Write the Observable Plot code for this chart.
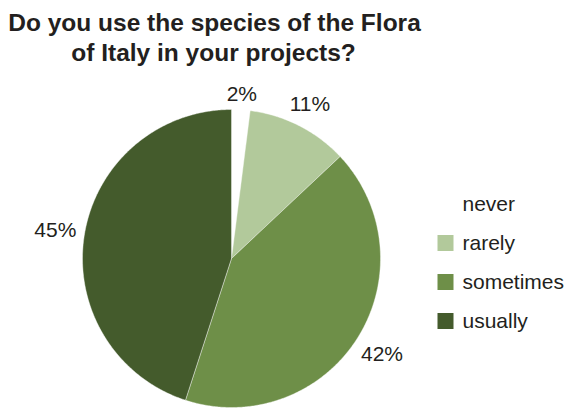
<!DOCTYPE html>
<html>
<head>
<meta charset="utf-8">
<script src="https://cdn.jsdelivr.net/npm/d3@7"></script>
<script src="https://cdn.jsdelivr.net/npm/@observablehq/plot@0.6"></script>
<style>
  html, body { margin: 0; padding: 0; background: #fff; }
  #chart { width: 567px; height: 408px; }
</style>
</head>
<body>
<div id="chart"></div>
<script>
const categories = ["never", "rarely", "sometimes", "usually"];
const values = [2, 11, 42, 45];
const labels = ["2%", "11%", "42%", "45%"];
const colors = ["#ffffff", "#b2c99b", "#6e8f48", "#445b2c"];
const titleLines = ["Do you use the species of the Flora", "of Italy in your projects?"];

const W = 567, H = 408;
const R = 149, CX = 231, CY = 258;
const textColor = "#231f20";
const font = "Liberation Sans, Arial, Helvetica, sans-serif";

// slice polygons built from the values
const pie = d3.pie().sort(null).startAngle(0).endAngle(2 * Math.PI)(values);
const polys = [];
pie.forEach((s, i) => {
  polys.push({cat: categories[i], x: 0, y: 0});
  const n = Math.max(2, Math.ceil((s.endAngle - s.startAngle) / (Math.PI / 360)));
  for (let k = 0; k <= n; k++) {
    const a = s.startAngle + (s.endAngle - s.startAngle) * k / n;
    polys.push({cat: categories[i], x: Math.sin(a), y: Math.cos(a)});
  }
  polys.push({cat: categories[i], x: 0, y: 0});
});

// label positions (outside end)
const fs = 21;
const lab = pie.map((s, i) => {
  const a = (s.startAngle + s.endAngle) / 2;
  const w = labels[i].length * 0.667 * fs, h = 15;
  const off = (w / 2 * Math.abs(Math.sin(a)) + h / 2 * Math.abs(Math.cos(a))) / R;
  const r = 1.05 + off;
  return {text: labels[i], x: r * Math.sin(a), y: r * Math.cos(a)};
});

const marks = [
  Plot.line(polys, {x: "x", y: "y", z: "cat", fill: "cat", stroke: "#ffffff", strokeWidth: 0.4, curve: "linear"}),
  Plot.text(lab, {x: "x", y: "y", text: "text", fontSize: fs, fill: textColor, textAnchor: "middle", lineAnchor: "middle"}),
  Plot.text([titleLines[0]], {frameAnchor: "top-left", dx: 214, dy: 22.5, text: d => d, fontSize: 24.5, fontWeight: "bold", fill: textColor, textAnchor: "middle", lineAnchor: "middle"}),
  Plot.text([titleLines[1]], {frameAnchor: "top-left", dx: 213, dy: 52.5, text: d => d, fontSize: 24.5, fontWeight: "bold", fill: textColor, textAnchor: "middle", lineAnchor: "middle"})
];
categories.forEach((c, i) => {
  const cy = 203.5 + i * 39;
  marks.push(Plot.dot([c], {frameAnchor: "top-left", dx: 445, dy: cy, symbol: "square", r: 9.03, fill: colors[i], stroke: null}));
  marks.push(Plot.text([c], {frameAnchor: "top-left", dx: 462, dy: cy, text: d => d, fontSize: fs, fill: textColor, textAnchor: "start", lineAnchor: "middle"}));
});

const chart = Plot.plot({
  width: W,
  height: H,
  margin: 0,
  style: {fontFamily: font, background: "#fff", overflow: "visible"},
  x: {domain: [-CX / R, (W - CX) / R], axis: null},
  y: {domain: [-(H - CY) / R, CY / R], axis: null},
  color: {domain: categories, range: colors},
  marks
});
document.getElementById("chart").appendChild(chart);
</script>
</body>
</html>
